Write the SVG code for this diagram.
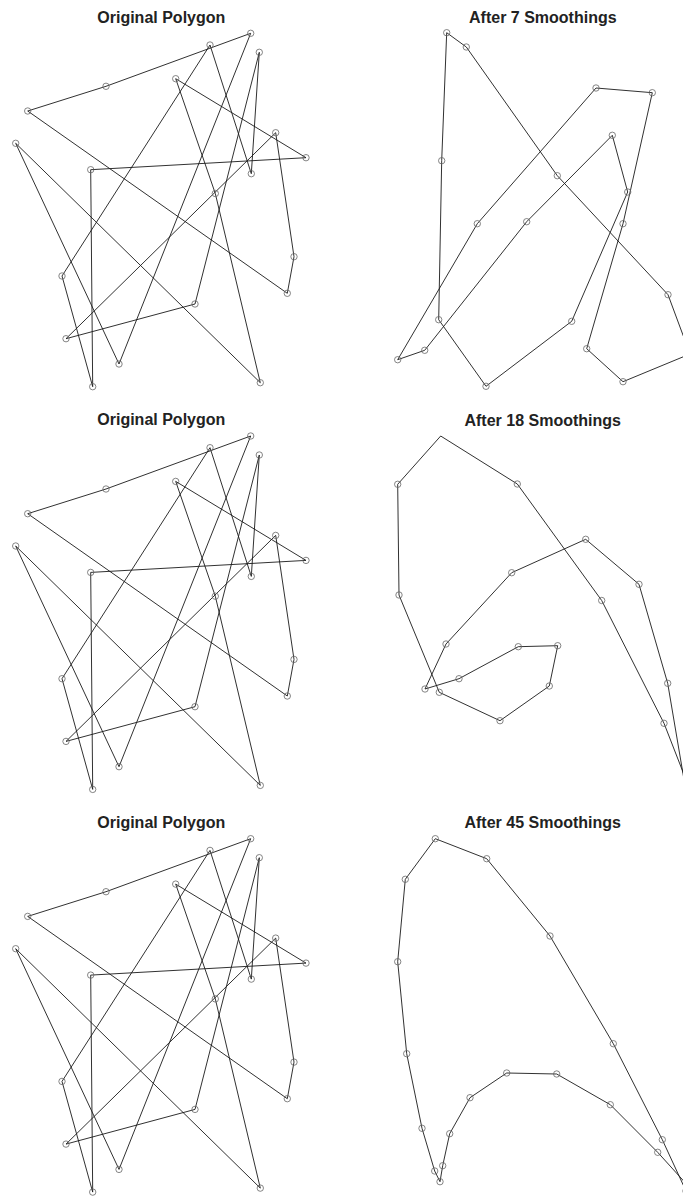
<svg xmlns="http://www.w3.org/2000/svg" width="683" height="1197" viewBox="0 0 683 1197">
<style>
.t{font-family:"Liberation Sans",Arial,sans-serif;font-weight:bold;font-size:16px;fill:#222;text-anchor:middle}
.ln{fill:none;stroke:#1a1a1a;stroke-width:0.9;stroke-linejoin:miter}
.v{fill:none;stroke:#666;stroke-width:0.8}
</style>
<defs>
<circle id="m" r="3.2" class="v"/>
<g id="orig">
<polygon class="ln" points="27.7,111 106,86.3 250.7,33.3 119,364 15.7,143.3 260.3,382.7 215.3,193.5 175.7,78.7 306,157.7 90.7,169.7 92.7,386.7 62,276 210,45 251.3,173.7 259.3,52.3 195,304 66,338.7 275.7,132.7 294,256.7 287.3,293.3"/>
<g>
<use href="#m" x="27.7" y="111"/><use href="#m" x="106" y="86.3"/><use href="#m" x="250.7" y="33.3"/><use href="#m" x="119" y="364"/><use href="#m" x="15.7" y="143.3"/><use href="#m" x="260.3" y="382.7"/><use href="#m" x="215.3" y="193.5"/><use href="#m" x="175.7" y="78.7"/><use href="#m" x="306" y="157.7"/><use href="#m" x="90.7" y="169.7"/><use href="#m" x="92.7" y="386.7"/><use href="#m" x="62" y="276"/><use href="#m" x="210" y="45"/><use href="#m" x="251.3" y="173.7"/><use href="#m" x="259.3" y="52.3"/><use href="#m" x="195" y="304"/><use href="#m" x="66" y="338.7"/><use href="#m" x="275.7" y="132.7"/><use href="#m" x="294" y="256.7"/><use href="#m" x="287.3" y="293.3"/>
</g>
</g>
</defs>

<g id="panel-orig-1">
<text class="t" x="161.3" y="22.7">Original Polygon</text>
<use href="#orig"/>
</g>

<g id="panel-smooth-7">
<text class="t" x="542.8" y="22.7">After 7 Smoothings</text>
<polygon class="ln" points="446.7,32.7 466.3,47 557.3,175.7 668,294.7 690,354 623,381.7 586.7,348.7 623,223.7 652.3,92.7 596,88 477.3,223.7 397.7,359.7 424.7,350.3 526.7,221.7 612.3,135.3 627.7,192 571.7,321.3 486,386.3 438.7,319.7 441.7,160.7"/>
<use href="#m" x="446.7" y="32.7"/><use href="#m" x="466.3" y="47"/><use href="#m" x="557.3" y="175.7"/><use href="#m" x="668" y="294.7"/><use href="#m" x="623" y="381.7"/><use href="#m" x="586.7" y="348.7"/><use href="#m" x="623" y="223.7"/><use href="#m" x="652.3" y="92.7"/><use href="#m" x="596" y="88"/><use href="#m" x="477.3" y="223.7"/><use href="#m" x="397.7" y="359.7"/><use href="#m" x="424.7" y="350.3"/><use href="#m" x="526.7" y="221.7"/><use href="#m" x="612.3" y="135.3"/><use href="#m" x="627.7" y="192"/><use href="#m" x="571.7" y="321.3"/><use href="#m" x="486" y="386.3"/><use href="#m" x="438.7" y="319.7"/><use href="#m" x="441.7" y="160.7"/>
</g>

<g id="panel-orig-2" transform="translate(0,402.7)">
<text class="t" x="161.3" y="22.7">Original Polygon</text>
<use href="#orig"/>
</g>

<g id="panel-smooth-18">
<text class="t" x="542.7" y="425.7">After 18 Smoothings</text>
<polygon class="ln" points="440.7,436 397.7,484.3 399,595 439.3,692.3 500,720.7 549.3,686 557.7,645.7 518.3,646.7 459,678.7 425,689 446,644 511.7,572.7 585.7,539.3 639,584.3 667.7,683.3 690,815 690,790 664,723.3 601.7,600.5 517.3,484"/>
<use href="#m" x="397.7" y="484.3"/><use href="#m" x="399" y="595"/><use href="#m" x="439.3" y="692.3"/><use href="#m" x="500" y="720.7"/><use href="#m" x="549.3" y="686"/><use href="#m" x="557.7" y="645.7"/><use href="#m" x="518.3" y="646.7"/><use href="#m" x="459" y="678.7"/><use href="#m" x="425" y="689"/><use href="#m" x="446" y="644"/><use href="#m" x="511.7" y="572.7"/><use href="#m" x="585.7" y="539.3"/><use href="#m" x="639" y="584.3"/><use href="#m" x="667.7" y="683.3"/><use href="#m" x="664" y="723.3"/><use href="#m" x="601.7" y="600.5"/><use href="#m" x="517.3" y="484"/>
</g>

<g id="panel-orig-3" transform="translate(0,805.4)">
<text class="t" x="161.3" y="22.7">Original Polygon</text>
<use href="#orig"/>
</g>

<g id="panel-smooth-45">
<text class="t" x="542.7" y="828.3">After 45 Smoothings</text>
<polygon class="ln" points="435.3,838.7 486.7,858.7 550,936 613.3,1043.7 662.3,1139.7 686,1191 690,1188 657.7,1152.3 610.3,1104.7 556.7,1074 506.7,1073 470,1097.7 449.7,1133.7 442.7,1165.7 440,1181.7 434.7,1171 422,1128.3 406.7,1053.7 397.7,961.7 405.3,879.3"/>
<use href="#m" x="435.3" y="838.7"/><use href="#m" x="486.7" y="858.7"/><use href="#m" x="550" y="936"/><use href="#m" x="613.3" y="1043.7"/><use href="#m" x="662.3" y="1139.7"/><use href="#m" x="686" y="1191"/><use href="#m" x="657.7" y="1152.3"/><use href="#m" x="610.3" y="1104.7"/><use href="#m" x="556.7" y="1074"/><use href="#m" x="506.7" y="1073"/><use href="#m" x="470" y="1097.7"/><use href="#m" x="449.7" y="1133.7"/><use href="#m" x="442.7" y="1165.7"/><use href="#m" x="440" y="1181.7"/><use href="#m" x="434.7" y="1171"/><use href="#m" x="422" y="1128.3"/><use href="#m" x="406.7" y="1053.7"/><use href="#m" x="397.7" y="961.7"/><use href="#m" x="405.3" y="879.3"/>
</g>
</svg>
